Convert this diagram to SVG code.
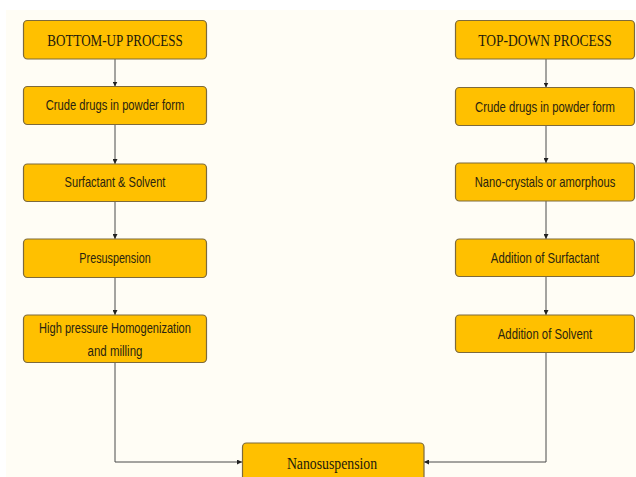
<svg xmlns="http://www.w3.org/2000/svg" width="636" height="477" viewBox="0 0 636 477">
<defs>
<style>
.box{fill:#ffc000;stroke:#7d6a3c;stroke-width:1.2}
.t{font-family:"Liberation Sans",Arial,sans-serif;font-size:14px;fill:#2a2410;text-anchor:middle;dominant-baseline:central}
.h{font-family:"Liberation Serif","Times New Roman",serif;font-size:17px;fill:#1e1a0c;text-anchor:middle;dominant-baseline:central}
.c{fill:none;stroke:#4a4a4a;stroke-width:1}
</style>
<marker id="ah" viewBox="0 0 8 8" refX="8" refY="4" markerWidth="5" markerHeight="5" orient="auto" markerUnits="userSpaceOnUse">
<path d="M0,0 L8,4 L0,8 z" fill="#222"/>
</marker>
</defs>
<rect x="0" y="0" width="636" height="477" fill="#ffffff"/>
<rect x="6" y="10" width="630" height="467" fill="#fffdf5"/>
<g id="connectors">
<path class="c" d="M115,59 V86.5" marker-end="url(#ah)"/>
<path class="c" d="M115,124.5 V164" marker-end="url(#ah)"/>
<path class="c" d="M115,201 V239" marker-end="url(#ah)"/>
<path class="c" d="M115,277.5 V315" marker-end="url(#ah)"/>
<path class="c" d="M115,362.5 V462 H242" marker-end="url(#ah)"/>
<path class="c" d="M546,59 V87.5" marker-end="url(#ah)"/>
<path class="c" d="M546,125.5 V163" marker-end="url(#ah)"/>
<path class="c" d="M546,201 V239" marker-end="url(#ah)"/>
<path class="c" d="M546,276.5 V315" marker-end="url(#ah)"/>
<path class="c" d="M546,352.5 V462 H424" marker-end="url(#ah)"/>
</g>
<g id="bottom-up">
<rect class="box" x="23.5" y="20.5" width="183" height="38.5" rx="4"/>
<text class="h" transform="translate(115,40) scale(0.77,1)">BOTTOM-UP PROCESS</text>
</g>
<g id="crude-left">
<rect class="box" x="23.5" y="86.5" width="183" height="38" rx="4"/>
<text class="t" transform="translate(115,106) scale(0.8,1)">Crude drugs in powder form</text>
</g>
<g id="surfactant-solvent">
<rect class="box" x="23.5" y="164" width="183" height="37.5" rx="4"/>
<text class="t" transform="translate(115,183) scale(0.79,1)">Surfactant &amp; Solvent</text>
</g>
<g id="presuspension">
<rect class="box" x="23.5" y="239" width="183" height="38.5" rx="4"/>
<text class="t" transform="translate(115,259) scale(0.77,1)">Presuspension</text>
</g>
<g id="homogenization">
<rect class="box" x="23.5" y="315" width="183" height="47.5" rx="4"/>
<text class="t" transform="translate(115,329) scale(0.79,1)">High pressure Homogenization</text>
<text class="t" transform="translate(115,351) scale(0.82,1)">and milling</text>
</g>
<g id="top-down">
<rect class="box" x="455.5" y="20.5" width="179" height="38.5" rx="4"/>
<text class="h" transform="translate(545,40) scale(0.795,1)">TOP-DOWN PROCESS</text>
</g>
<g id="crude-right">
<rect class="box" x="455.5" y="87.5" width="179" height="38" rx="4"/>
<text class="t" transform="translate(545,107) scale(0.807,1)">Crude drugs in powder form</text>
</g>
<g id="nano-crystals">
<rect class="box" x="455.5" y="163" width="179" height="38" rx="4"/>
<text class="t" transform="translate(545,183) scale(0.8,1)">Nano-crystals or amorphous</text>
</g>
<g id="add-surfactant">
<rect class="box" x="455.5" y="239" width="179" height="37.5" rx="4"/>
<text class="t" transform="translate(545,258.5) scale(0.81,1)">Addition of Surfactant</text>
</g>
<g id="add-solvent">
<rect class="box" x="455.5" y="315" width="179" height="37.5" rx="4"/>
<text class="t" transform="translate(545,334.5) scale(0.81,1)">Addition of Solvent</text>
</g>
<g id="nanosuspension">
<rect class="box" x="242.5" y="443" width="181.5" height="45" rx="4"/>
<text class="h" transform="translate(332,462.5) scale(0.81,1)">Nanosuspension</text>
</g>
</svg>
